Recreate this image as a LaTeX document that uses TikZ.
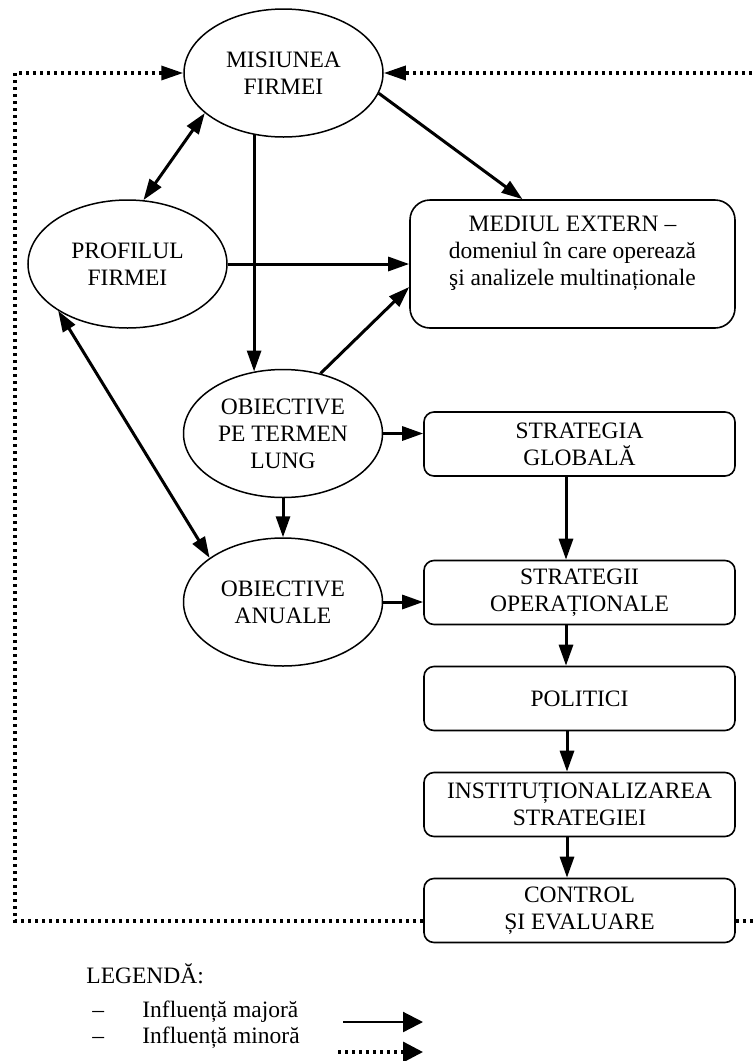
\documentclass[tikz,border=0pt]{standalone}
\usepackage{fontspec}
\setmainfont{Liberation Serif}
\usetikzlibrary{arrows.meta,shapes.geometric,calc}
\begin{document}
\begin{tikzpicture}[x=0.5pt,y=-0.5pt,
  font=\fontsize{11.75}{13.5}\selectfont,
  ell/.style={ellipse, draw, line width=0.75pt, minimum width=99.5pt, minimum height=64pt, inner sep=0pt, align=center},
  bx/.style={draw, rounded corners=5pt, line width=0.8pt, minimum width=155.5pt, minimum height=32pt, inner sep=0pt, align=center},
  arr/.style={-{Triangle[length=10.5pt,width=7pt]}, line width=1.5pt},
  darr/.style={{Triangle[length=10.5pt,width=7pt]}-{Triangle[length=10.5pt,width=7pt]}, line width=1.5pt},
  dots/.style={line width=1.7pt, dash pattern=on 1.6pt off 1.9pt},
  dotarr/.style={dots, -{Triangle[length=11pt,width=7pt]}},
  legarr/.style={-{Triangle[length=10pt,width=10pt]}}
]
\useasboundingbox (0,0) rectangle (755,1061);

% nodes
\node[ell] (mis)  at (283.5,73)  {MISIUNEA\\FIRMEI};
\node[ell] (prof) at (127.5,264) {PROFILUL\\FIRMEI};
\node[ell] (optl) at (283,433.5) {OBIECTIVE\\PE TERMEN\\LUNG};
\node[ell] (oan)  at (283,602)   {OBIECTIVE\\ANUALE};
\node[bx, rounded corners=10pt, minimum width=162.5pt, minimum height=64pt] (med) at (572.5,264)
  {MEDIUL EXTERN –\\domeniul în care operează\\şi analizele multinaționale\\\mbox{}};
\node[bx] (sg)   at (579.5,444)   {STRATEGIA\\GLOBALĂ};
\node[bx] (so)   at (579.5,592.5) {STRATEGII\\OPERAȚIONALE};
\node[bx] (pol)  at (579.5,698.5) {POLITICI};
\node[bx] (inst) at (579.5,804.5) {INSTITUȚIONALIZAREA\\STRATEGIEI};
\node[bx] (ctrl) at (579.5,910.5) {CONTROL\\ȘI EVALUARE};

% feedback coordinates
\coordinate (bl) at (15,921);
\coordinate (tl) at (15,73);
\coordinate (br) at (775,921);
\coordinate (tr) at (775,73);

% dotted feedback loops
\draw[dotarr] (ctrl.west |- bl) -- (bl) -- (tl) -- (mis.west);
\draw[dotarr] (ctrl.east |- br) -- (br) -- (tr) -- (mis.east);

% major influences
\draw[arr] (optl.115 |- mis.245) -- (optl.115);
\draw[arr] (prof.east) -- (med.west);
\draw[arr] (mis.-12) -- ([xshift=-25pt]med.north);
\draw[darr] (mis.207) -- (prof.76);
\draw[arr] (optl.58) -- ([yshift=-11.5pt]med.west);
\draw[darr] (prof.214) -- (oan.149);
\draw[arr] (optl.east) -- (sg.west |- optl.east);
\draw[arr] (optl.south) -- (oan.north);
\draw[arr] (oan.east) -- (so.west |- oan.east);
\draw[arr] ([xshift=-6.75pt]sg.south) -- ([xshift=-6.75pt]so.north);
\draw[arr] ([xshift=-6.75pt]so.south) -- ([xshift=-6.75pt]pol.north);
\draw[arr] ([xshift=-6.25pt]pol.south) -- ([xshift=-6.25pt]inst.north);
\draw[arr] ([xshift=-6.25pt]inst.south) -- ([xshift=-6.25pt]ctrl.north);

% legend
\node[anchor=base west, inner sep=0pt] (leg) at (86,983) {LEGENDĂ:};
\node[anchor=base west, inner sep=0pt] (d1) at (92,1017) {–};
\node[anchor=base west, inner sep=0pt] (t1) at (142,1017) {Influență majoră};
\node[anchor=base west, inner sep=0pt] (d2) at (92,1043) {–};
\node[anchor=base west, inner sep=0pt] (t2) at (142,1043) {Influență minoră};
\coordinate (la1) at (343,1022);
\coordinate (la2) at (423,1022);
\coordinate (lb1) at (338,1052);
\coordinate (lb2) at (423,1052);
\draw[line width=1.1pt, legarr] (la1) -- (la2);
\draw[dots, legarr] (lb1) -- (lb2);
\end{tikzpicture}
\end{document}
